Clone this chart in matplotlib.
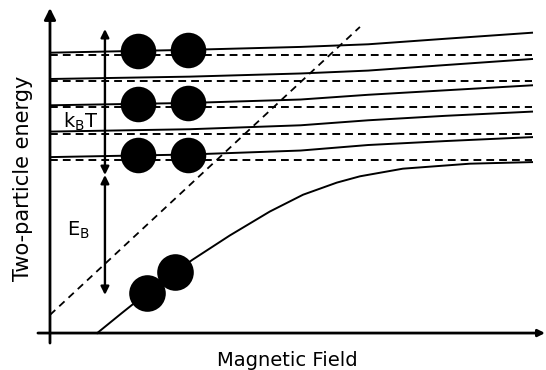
import numpy as np
import matplotlib
matplotlib.use("Agg")
import matplotlib.pyplot as plt

plt.rcParams['font.family'] = ['DejaVu Sans']
plt.rcParams['mathtext.default'] = 'regular'

# open-channel thresholds (dashed), in units of the level spacing
thresholds = [0.0, 1.0, 2.0, 3.0, 4.0]

# shift of the interacting levels (solid) above each threshold vs field
shift_field = [0.0, 2.9, 5.2, 6.6, 8.2, 10.0]
level_shift = [
    [0.11, 0.21, 0.36, 0.57, 0.72, 0.87],
    [0.08, 0.17, 0.32, 0.51, 0.68, 0.84],
    [0.08, 0.17, 0.30, 0.48, 0.65, 0.84],
    [0.08, 0.17, 0.29, 0.40, 0.61, 0.84],
    [0.08, 0.19, 0.30, 0.40, 0.61, 0.84],
]

# molecular (bound) state
bound_field = [0.98, 1.49, 2.01, 2.49, 2.95, 3.73, 4.56, 5.25, 5.95, 6.43, 7.32, 8.71, 10.0]
bound_energy = [-6.58, -5.82, -5.06, -4.41, -3.80, -2.87, -1.96, -1.32, -0.86, -0.62, -0.33, -0.14, -0.08]

# bare closed-channel state (dashed diagonal)
closed_field = [0.0, 6.43]
closed_energy = [-5.89, 5.06]

# atom pairs and molecule
pair_field = [1.83, 2.86]
pair_levels = [4, 2, 0]
molecule_field = [2.01, 2.59]

# energy scale arrows
arrow_field = 1.14
kT_range = [4.98, -0.57]
EB_range = [-0.57, -5.13]

fig = plt.figure(figsize=(5.46, 3.70), dpi=100)
ax = fig.add_axes([0, 0, 1, 1])
ax.set_xlim(-1.037, 10.29)
ax.set_ylim(-7.985, 6.084)
ax.axis('off')

lw = 1.4
for e0, sh in zip(thresholds, level_shift):
    ax.plot([0, 10], [e0, e0], color='black', lw=lw, dashes=(4, 2.6))
    ax.plot(shift_field, e0 + np.array(sh), color='black', lw=lw)

ax.plot(bound_field, bound_energy, color='black', lw=lw)
ax.plot(closed_field, closed_energy, color='black', lw=1.3, dashes=(4, 3))

for lev in pair_levels:
    ys = [thresholds[lev] + np.interp(b, shift_field, level_shift[lev]) for b in pair_field]
    ax.scatter(pair_field, ys, s=655, color='black', zorder=5, linewidths=0)

mol_y = np.interp(molecule_field, bound_field, bound_energy)
ax.scatter(molecule_field, mol_y, s=695, color='black', zorder=5, linewidths=0)

arr = dict(arrowstyle='<|-|>', lw=1.7, color='black', mutation_scale=12, shrinkA=0, shrinkB=0)
ax.annotate('', xy=(arrow_field, kT_range[0]), xytext=(arrow_field, kT_range[1]), arrowprops=arr)
ax.annotate('', xy=(arrow_field, EB_range[0]), xytext=(arrow_field, EB_range[1]), arrowprops=arr)

ax.text(0.64, 1.44, r'k$_\mathrm{B}$T', fontsize=14, ha='center', va='center')
ax.text(0.60, -2.66, r'E$_\mathrm{B}$', fontsize=14, ha='center', va='center')

# axes
ax.annotate('', xy=(0, 5.78), xytext=(0, -6.96),
            arrowprops=dict(arrowstyle='-|>', lw=2.0, color='black', mutation_scale=17, shrinkA=0, shrinkB=0))
ax.annotate('', xy=(10.27, -6.58), xytext=(-0.25, -6.58),
            arrowprops=dict(arrowstyle='-|>', lw=2.0, color='black', mutation_scale=10, shrinkA=0, shrinkB=0))

fig.text(287 / 546, 1 - 366.5 / 370, 'Magnetic Field', fontsize=14, ha='center', va='baseline')
fig.text(23 / 546, 1 - 178.5 / 370, 'Two-particle energy', fontsize=15, rotation=90, ha='center', va='center')

fig.savefig('out.png', dpi=100)
